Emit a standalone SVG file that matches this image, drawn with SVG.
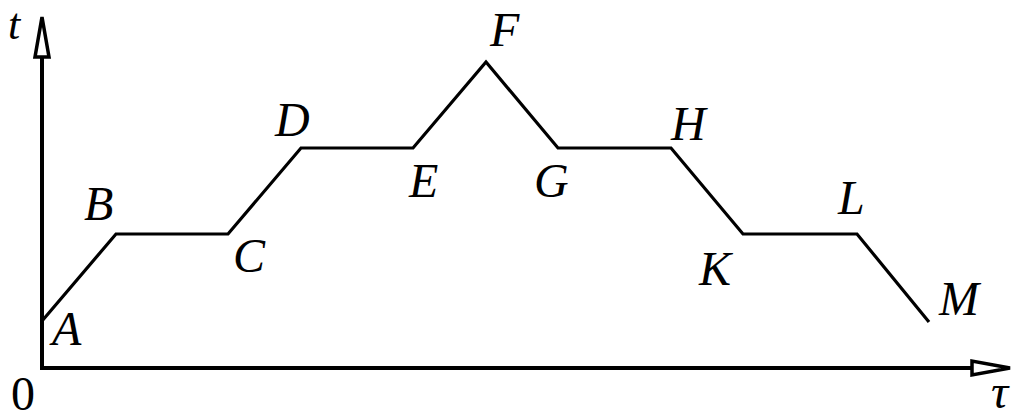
<svg xmlns="http://www.w3.org/2000/svg" width="1024" height="419" viewBox="0 0 1024 419">
<style>
.lbl{font-family:"Liberation Serif",serif;font-style:italic;font-size:48px;fill:#000}
.num{font-family:"Liberation Serif",serif;font-size:48px;fill:#000}
.ax{stroke:#000;stroke-width:4;fill:none}
.arr{stroke:#000;stroke-width:3.5;fill:#fff;stroke-linejoin:miter}
.curve{stroke:#000;stroke-width:3.2;fill:none;stroke-linejoin:miter}
</style>
<rect width="1024" height="419" fill="#fff"/>
<g id="axes">
<polyline class="ax" points="42,57 42,368 972,368"/>
<polygon class="arr" points="42,17 35,57 49,57"/>
<polygon class="arr" points="1010,368 972,361 972,375"/>
<text class="lbl" x="8" y="39" style="font-size:44px">t</text>
<text class="lbl" x="991" y="408">τ</text>
<text class="num" x="11" y="410">0</text>
</g>
<g id="connectors">
<polyline class="curve" points="42,321 116,234 228,234 301,148 413,148 486,62 558,148 671,148 743,234 857,234 929,322"/>
</g>
<g id="A"><text class="lbl" x="52" y="345">A</text></g>
<g id="B"><text class="lbl" x="84" y="220">B</text></g>
<g id="C"><text class="lbl" x="233" y="272">C</text></g>
<g id="D"><text class="lbl" x="275" y="136">D</text></g>
<g id="E"><text class="lbl" x="409" y="197">E</text></g>
<g id="F"><text class="lbl" x="490" y="46">F</text></g>
<g id="G"><text class="lbl" x="534" y="197">G</text></g>
<g id="H"><text class="lbl" x="671" y="140">H</text></g>
<g id="K"><text class="lbl" x="699" y="285">K</text></g>
<g id="L"><text class="lbl" x="838" y="214">L</text></g>
<g id="M"><text class="lbl" x="939" y="315">M</text></g>
</svg>
